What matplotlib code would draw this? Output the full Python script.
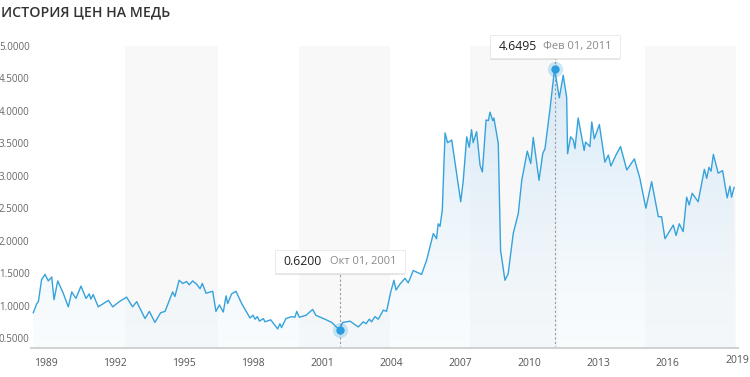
import numpy as np
import matplotlib.pyplot as plt
import matplotlib.patheffects as pe
import matplotlib.transforms as mtransforms
from matplotlib.colors import LinearSegmentedColormap
from matplotlib.patches import Rectangle

plt.rcParams["font.family"] = ["Open Sans", "DejaVu Sans"]

TITLE = "ИСТОРИЯ ЦЕН НА МЕДЬ"

# copper price, USD per pound (decimal year, value)
years = [
    1988.45, 1988.60, 1988.67, 1988.81, 1988.96, 1989.10, 1989.25, 1989.35, 1989.51, 1989.75,
    1989.97, 1990.12, 1990.30, 1990.52, 1990.74, 1990.88, 1990.95, 1991.05, 1991.27, 1991.71,
    1991.90, 1992.18, 1992.50, 1992.76, 1992.94, 1993.30, 1993.49, 1993.73, 1993.98, 1994.17,
    1994.50, 1994.60, 1994.78, 1994.94, 1995.11, 1995.22, 1995.37, 1995.54, 1995.69, 1995.79,
    1995.95, 1996.24, 1996.38, 1996.53, 1996.70, 1996.82, 1996.89, 1997.06, 1997.25, 1997.50,
    1997.86, 1997.99, 1998.08, 1998.18, 1998.27, 1998.44, 1998.51, 1998.76, 1999.06, 1999.16,
    1999.23, 1999.42, 1999.67, 1999.81, 1999.89, 2000.00, 2000.29, 2000.58, 2000.72, 2001.11,
    2001.41, 2001.75, 2001.88, 2002.06, 2002.20, 2002.56, 2002.78, 2002.90, 2003.04, 2003.14,
    2003.29, 2003.43, 2003.65, 2003.79, 2003.97, 2004.11, 2004.20, 2004.37, 2004.59, 2004.73,
    2004.95, 2005.31, 2005.53, 2005.82, 2005.96, 2006.03, 2006.11, 2006.21, 2006.33, 2006.44,
    2006.62, 2007.01, 2007.12, 2007.27, 2007.38, 2007.48, 2007.55, 2007.70, 2007.85, 2007.95,
    2008.11, 2008.21, 2008.28, 2008.40, 2008.45, 2008.64, 2008.74, 2008.93, 2009.07, 2009.29,
    2009.51, 2009.66, 2009.90, 2010.05, 2010.16, 2010.41, 2010.57, 2010.67, 2010.88, 2011.03,
    2011.085, 2011.29, 2011.46, 2011.61, 2011.65, 2011.78, 2011.90, 2011.97, 2012.11, 2012.26,
    2012.37, 2012.43, 2012.62, 2012.70, 2012.81, 2013.03, 2013.27, 2013.42, 2013.53, 2013.75,
    2013.95, 2014.22, 2014.55, 2014.79, 2015.05, 2015.30, 2015.59, 2015.73, 2015.88, 2016.24,
    2016.36, 2016.50, 2016.67, 2016.82, 2016.93, 2017.06, 2017.32, 2017.59, 2017.69, 2017.79,
    2017.88, 2017.98, 2018.19, 2018.38, 2018.58, 2018.70, 2018.77, 2018.88,
]
prices = [
    0.89, 1.03, 1.06, 1.40, 1.48, 1.38, 1.44, 1.09, 1.38, 1.19,
    0.98, 1.21, 1.11, 1.30, 1.11, 1.18, 1.10, 1.17, 0.98, 1.08,
    0.98, 1.06, 1.13, 0.98, 1.06, 0.80, 0.91, 0.74, 0.89, 0.91,
    1.21, 1.14, 1.39, 1.34, 1.37, 1.32, 1.38, 1.33, 1.26, 1.34,
    1.19, 1.22, 0.91, 1.01, 0.90, 1.15, 1.03, 1.18, 1.22, 1.03,
    0.81, 0.85, 0.79, 0.83, 0.76, 0.80, 0.75, 0.78, 0.64, 0.72,
    0.66, 0.80, 0.83, 0.82, 0.91, 0.82, 0.85, 0.94, 0.85, 0.79,
    0.74, 0.62, 0.74, 0.75, 0.76, 0.67, 0.75, 0.72, 0.79, 0.75,
    0.83, 0.79, 0.93, 0.91, 1.21, 1.39, 1.24, 1.33, 1.42, 1.35,
    1.54, 1.48, 1.70, 2.11, 2.03, 2.26, 2.22, 2.47, 3.66, 3.51,
    3.55, 2.60, 2.93, 3.60, 3.44, 3.71, 3.51, 3.68, 3.16, 3.06,
    3.86, 3.85, 3.98, 3.85, 3.89, 3.50, 1.85, 1.39, 1.49, 2.11,
    2.42, 2.93, 3.38, 3.19, 3.59, 2.93, 3.34, 3.42, 4.01, 4.47,
    4.6495, 4.20, 4.55, 4.21, 3.34, 3.60, 3.55, 3.42, 3.89, 3.60,
    3.39, 3.52, 3.45, 3.83, 3.57, 3.79, 3.21, 3.32, 3.15, 3.32,
    3.45, 3.09, 3.26, 2.96, 2.50, 2.91, 2.37, 2.37, 2.03, 2.24,
    2.08, 2.26, 2.14, 2.67, 2.55, 2.73, 2.60, 3.10, 2.96, 3.13,
    3.07, 3.33, 3.04, 3.08, 2.66, 2.84, 2.67, 2.82,
]

# highlighted points: (year, value, value text, date text)
low_point = (2001.75, 0.62, "0.6200", "Окт 01, 2001")
high_point = (2011.085, 4.6495, "4.6495", "Фев 01, 2011")

x_ticks = [1989, 1992, 1995, 1998, 2001, 2004, 2007, 2010, 2013, 2016, 2019]
y_ticks = [0.5, 1.0, 1.5, 2.0, 2.5, 3.0, 3.5, 4.0, 4.5, 5.0]
bands = [(1992.43, 1996.47), (2000.0, 2003.94), (2007.41, 2011.23), (2015.01, 2018.96)]

LINE = "#35a2dc"
X0, X1 = 1988.35, 2019.05
Y0, Y1 = 0.346, 5.0

fig = plt.figure(figsize=(7.5, 3.77), dpi=100)
ax = fig.add_axes([31 / 750, 29 / 377, 707 / 750, 302 / 377])

for a, b in bands:
    ax.axvspan(a, b, color="#f8f8f9", lw=0, zorder=0)

# gradient fill under the line
poly = ax.fill_between(years, prices, Y0, facecolor="none", edgecolor="none")
cmap = LinearSegmentedColormap.from_list(
    "fade", [(0.94, 0.97, 0.99, 0.35), (0.82, 0.90, 0.96, 0.95)]
)
grad = np.linspace(0, 1, 256).reshape(-1, 1)
im = ax.imshow(grad, extent=[X0, X1, Y0, Y1], origin="lower", cmap=cmap,
               aspect="auto", zorder=1, interpolation="bicubic")
im.set_clip_path(poly.get_paths()[0], transform=ax.transData)

ax.plot(years, prices, color=LINE, lw=1.0, zorder=3)

px_x = 1 / 23.03  # years per pixel
px_y = 1 / 65.0   # price per pixel
for yr, val, vtxt, dtxt in (low_point, high_point):
    box_w, box_h = 130 * px_x, 23 * px_y
    if val < 2:
        box_bot = val + 0.88
    else:
        box_bot = Y1 - 12 * px_y
    ax.plot([yr, yr], [Y0, box_bot], color="#9a9a9a", lw=0.8,
            ls=(0, (2, 2)), zorder=2, clip_on=False)
    ax.plot(yr, val, "o", ms=11, color=LINE, alpha=0.25, mec="none", zorder=4, clip_on=False)
    ax.plot(yr, val, "o", ms=6, color="#2a9de0", mec="none", zorder=5, clip_on=False)
    rect = Rectangle((yr - box_w / 2, box_bot), box_w, box_h, facecolor="white",
                     edgecolor="#e8e8e8", lw=0.6, zorder=6, clip_on=False)
    rect.set_path_effects([pe.SimplePatchShadow(offset=(0, -1.5), shadow_rgbFace="k", alpha=0.10),
                           pe.Normal()])
    ax.add_patch(rect)
    ax.text(yr - box_w / 2 + 9 * px_x, box_bot + box_h / 2, vtxt, color="#222222",
            fontsize=8.8, ha="left", va="center", zorder=7, clip_on=False)
    ax.text(yr + box_w / 2 - 8 * px_x, box_bot + box_h / 2, dtxt, color="#8a8a8a",
            fontsize=8.0, ha="right", va="center", zorder=7, clip_on=False)

ax.set_xlim(X0, X1)
ax.set_ylim(Y0, Y1)
ax.set_xticks(x_ticks)
ax.set_xticklabels([str(t) for t in x_ticks])
ax.set_yticks(y_ticks)
ax.set_yticklabels([f"{t:.4f}" for t in y_ticks])
ax.tick_params(axis="x", length=0, pad=7, labelsize=7.5, labelcolor="#555555")
ax.tick_params(axis="y", length=0, pad=1, labelsize=7, labelcolor="#666666")

# last year label sits a little higher in the original
last = ax.get_xticklabels()[-1]
last.set_transform(last.get_transform() + mtransforms.ScaledTranslation(0, 0.03, fig.dpi_scale_trans))

for side in ("top", "right", "left"):
    ax.spines[side].set_visible(False)
ax.spines["bottom"].set_color("#d2d2d2")
ax.spines["bottom"].set_linewidth(1.5)
ax.spines["bottom"].set_zorder(8)

fig.text(1 / 750, 1 - 12.5 / 377, TITLE, fontsize=10.2, fontweight="semibold",
         color="#333333", ha="left", va="center")

fig.savefig("out.png", dpi=100)
